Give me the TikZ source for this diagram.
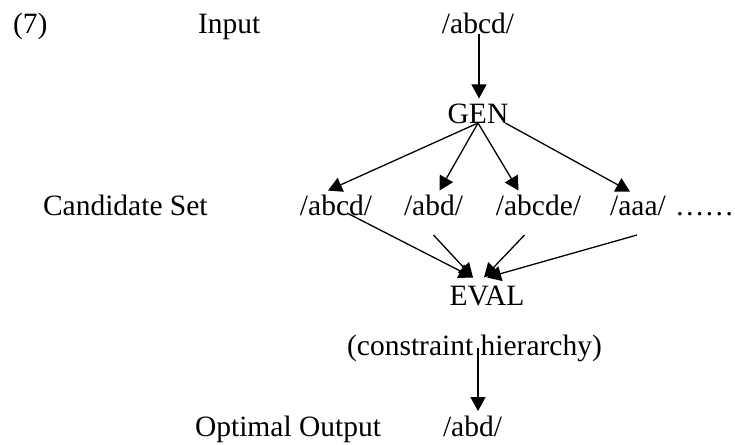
\documentclass[tikz,border=0pt]{standalone}
\usepackage{fontspec}
\setmainfont{Liberation Serif}
\usetikzlibrary{arrows.meta}

\begin{document}
\begin{tikzpicture}[x=1pt,y=-1pt,
	font=\fontsize{29.5}{35}\selectfont,
	txt/.style={inner sep=0pt, outer sep=0pt, anchor=base},
	arr/.style={-{Triangle[length=14pt,width=15pt]}, line width=1.3pt}]

	\useasboundingbox (0,0) rectangle (735,444);

% row labels %{{{2

	\node[txt, anchor=base west] (N) at (13,34) {(7)};
	\node[txt, anchor=base west] (I) at (198,34) {Input};
	\node[txt, anchor=base west] (S) at (43,215) {Candidate Set};
	\node[txt, anchor=base west] (O) at (195,436.5) {Optimal Output};

% forms and components %{{{2

	\node[txt] (In) at (478,34) {/abcd/};
	\node[txt] (Gen) at (478,123) {GEN};
	\node[txt] (Ca) at (336,215) {/abcd/};
	\node[txt] (Cb) at (433.5,215) {/abd/};
	\node[txt] (Cc) at (538.5,215) {/abcde/};
	\node[txt] (Cd) at (638,215) {/aaa/};
	\node[txt, anchor=base west] (Dots) at (675,215) {……};
	\node[txt] (Ev) at (487,305) {EVAL};
	\node[txt] (Hi) at (474.5,355) {(constraint hierarchy)};
	\node[txt] (Out) at (472.5,436.5) {/abd/};

% input to GEN %{{{2

	\draw[arr] ([xshift=1pt]In.base) -- ([xshift=1pt,yshift=5pt]Gen.north);

% GEN to candidates %{{{2

	\draw[arr] (Gen.base) -- ([xshift=-8pt,yshift=4pt]Ca.north);
	\draw[arr] (Gen.base) -- ([xshift=6pt,yshift=4pt]Cb.north);
	\draw[arr] (Gen.base) -- ([xshift=-20pt,yshift=4pt]Cc.north);
	\draw[arr] ([xshift=-3pt]Gen.base east) -- ([xshift=-8pt,yshift=4pt]Cd.north);

% candidates to EVAL %{{{2

	\draw[arr] ([xshift=11pt,yshift=2pt]Ca.base) -- ([xshift=-14pt,yshift=8pt]Ev.north);
	\draw[arr] ([yshift=-20pt]Cb.base) -- ([xshift=-14pt,yshift=8pt]Ev.north);
	\draw[arr] ([xshift=-14pt,yshift=-20pt]Cc.base) -- ([xshift=-3pt,yshift=8pt]Ev.north);
	\draw[arr] ([xshift=-1pt,yshift=-20pt]Cd.base) -- ([yshift=8pt]Ev.north);

% EVAL to output %{{{2

	\draw[arr] ([xshift=3.5pt,yshift=7pt]Hi.base) -- ([xshift=5.5pt,yshift=5pt]Out.north);

\end{tikzpicture}
\end{document}
